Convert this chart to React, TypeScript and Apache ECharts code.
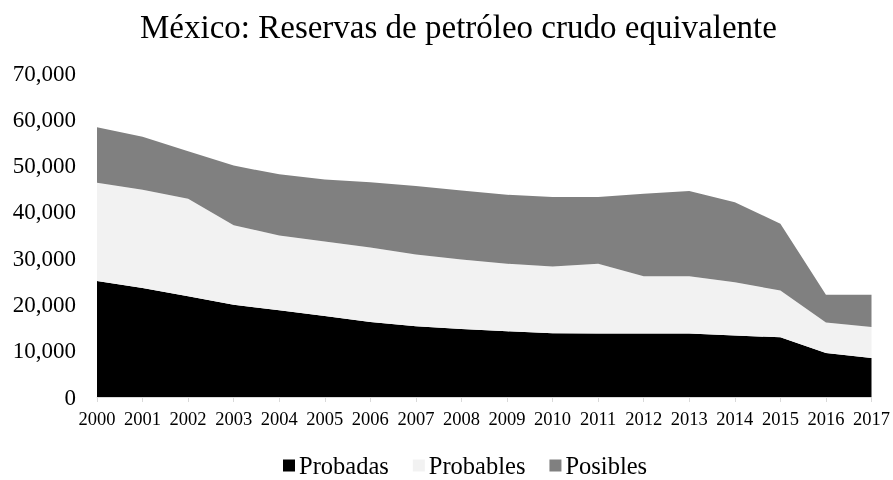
import React, { useEffect, useRef } from "react";
import * as echarts from "echarts";

const years = ["2000","2001","2002","2003","2004","2005","2006","2007","2008","2009","2010","2011","2012","2013","2014","2015","2016","2017"];
const probadas = [25050,23540,21750,19950,18730,17500,16200,15270,14700,14200,13800,13700,13700,13700,13300,12900,9500,8400];
const probables = [21250,21260,21100,17150,16170,16100,16100,15530,15000,14600,14400,15100,12400,12400,11500,10100,6600,6700];
const posibles = [12000,11400,10250,12900,13200,13400,14100,14800,14900,14900,15000,14400,17800,18400,17300,14450,6000,7000];

const seriesNames = ["Probadas", "Probables", "Posibles"];
const seriesColors = ["#000000", "#f2f2f2", "#808080"];
const title = "México: Reservas de petróleo crudo equivalente";
const serif = "'Liberation Serif', 'Times New Roman', serif";

export default function App() {
  const ref = useRef<HTMLDivElement>(null);
  useEffect(() => {
    if (!ref.current) return;
    const chart = echarts.init(ref.current, null, { renderer: "svg" });
    const data = [probadas, probables, posibles];
    chart.setOption({
      animation: false,
      title: {
        text: title,
        left: 135,
        top: 5,
        textStyle: { fontFamily: serif, fontSize: 33, fontWeight: "normal", color: "#000" },
      },
      grid: { left: 97, right: 18, top: 73, bottom: 83, containLabel: false },
      legend: {
        bottom: 2,
        left: 283,
        padding: 0,
        itemWidth: 12,
        itemHeight: 12,
        itemGap: 24,
        icon: "rect",
        textStyle: { fontFamily: serif, fontSize: 24.5, color: "#000", padding: [0, 0, 0, -1] },
        data: seriesNames,
      },
      xAxis: {
        type: "category",
        data: years,
        boundaryGap: false,
        axisLine: { lineStyle: { color: "#d9d9d9", width: 1 } },
        axisTick: { show: true, alignWithLabel: true, length: 5, lineStyle: { color: "#d9d9d9" } },
        axisLabel: { fontFamily: serif, fontSize: 18.5, color: "#000", margin: 12, interval: 0 },
      },
      yAxis: {
        type: "value",
        min: 0,
        max: 70000,
        interval: 10000,
        splitLine: { show: false },
        axisLine: { show: false },
        axisTick: { show: false },
        axisLabel: {
          fontFamily: serif,
          fontSize: 23,
          color: "#000",
          margin: 21,
          formatter: (v: number) => v.toLocaleString("en-US"),
        },
      },
      series: seriesNames.map((name, i) => ({
        name,
        type: "line",
        stack: "total",
        data: data[i],
        symbol: "none",
        lineStyle: { width: 0 },
        areaStyle: { color: seriesColors[i], opacity: 1 },
        itemStyle: { color: seriesColors[i] },
      })),
    });
    return () => chart.dispose();
  }, []);
  return (
    <div
      ref={ref}
      style={{ position: "fixed", left: 0, top: 0, width: 893, height: 480, overflow: "hidden" }}
    />
  );
}
